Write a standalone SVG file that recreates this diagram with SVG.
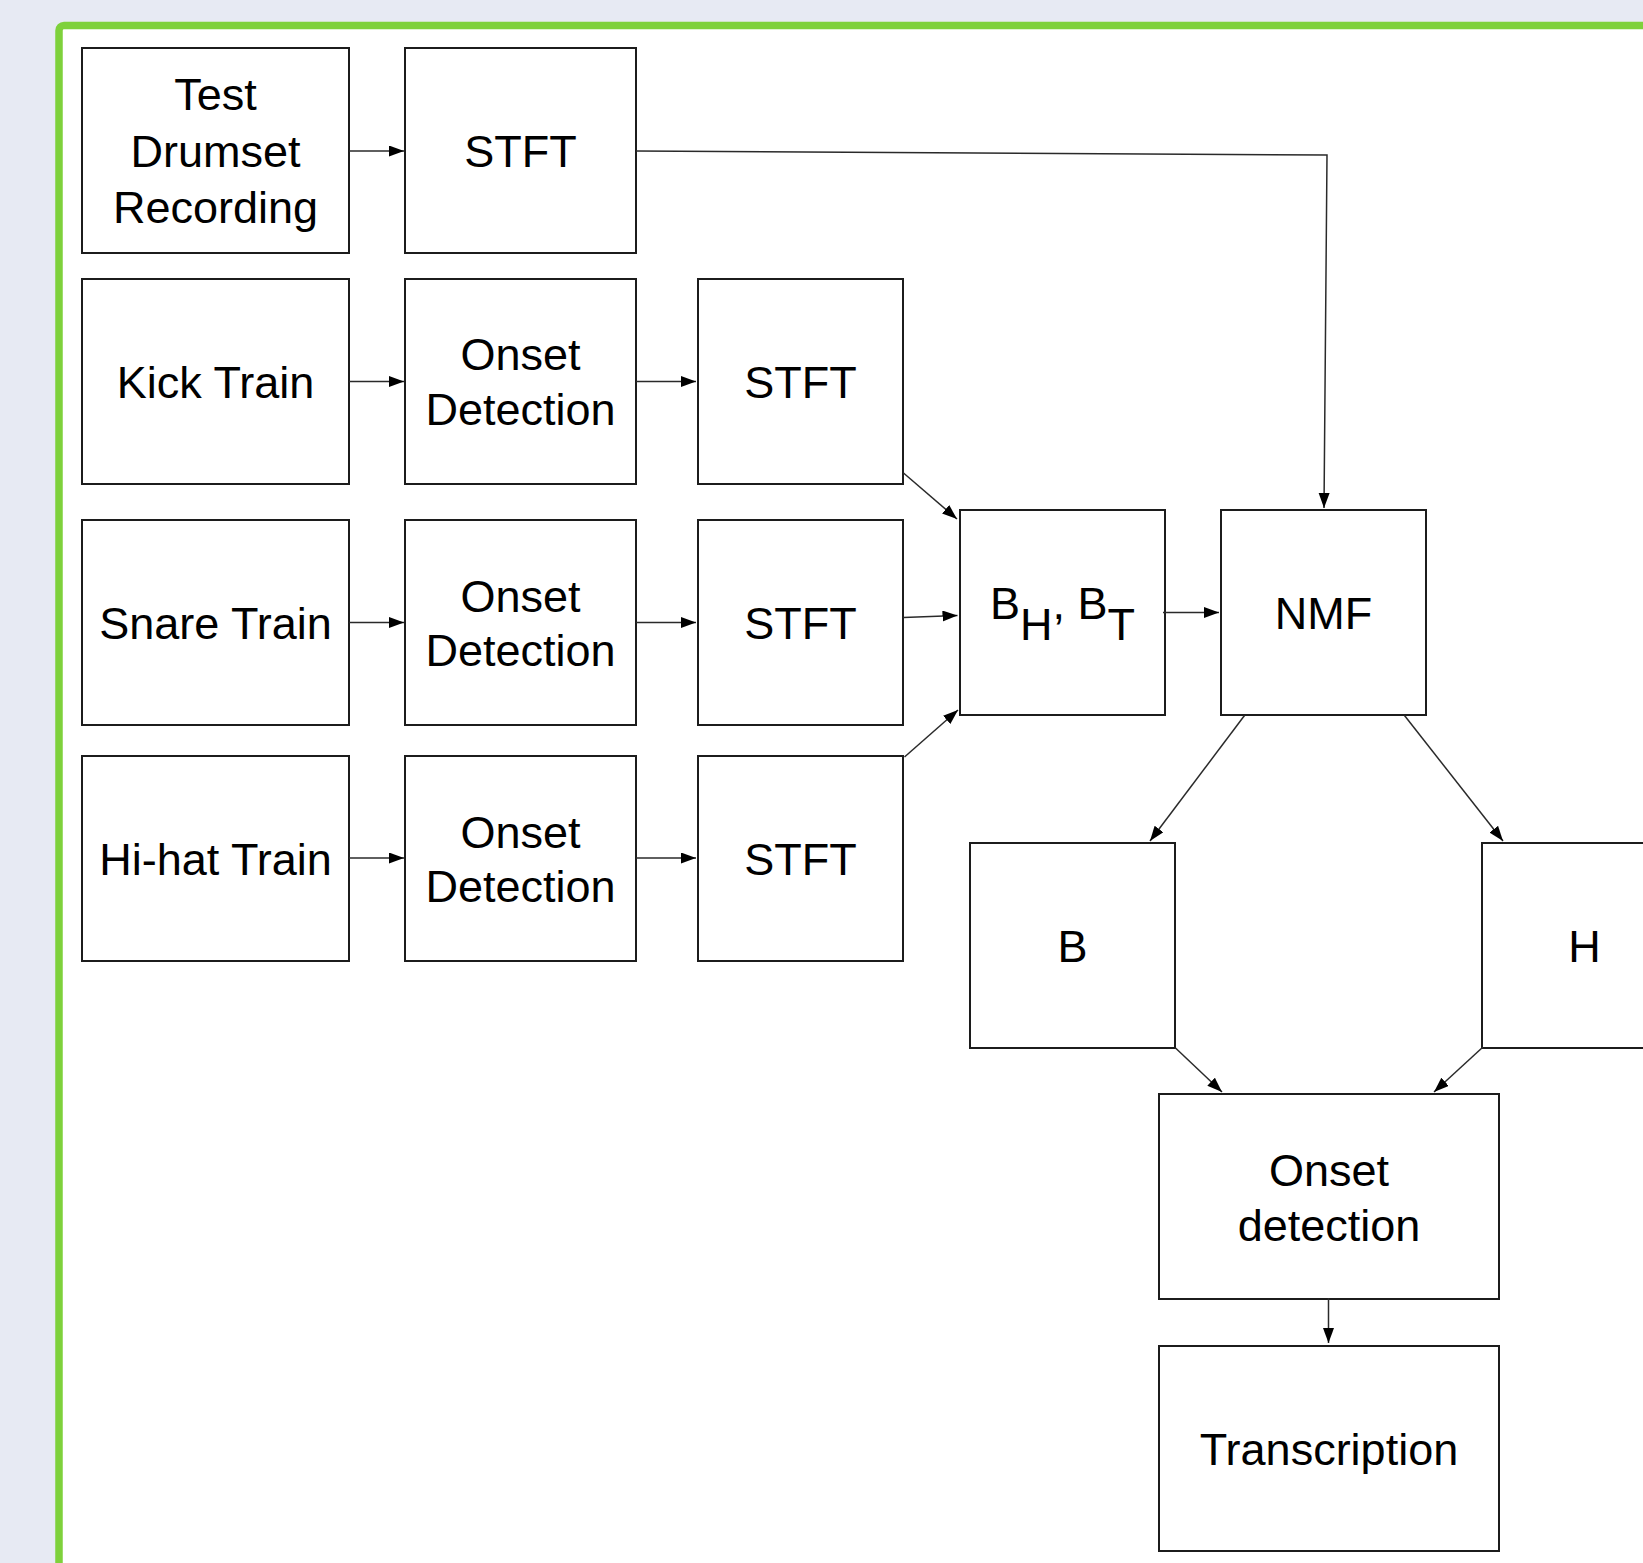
<svg xmlns="http://www.w3.org/2000/svg" width="1643" height="1563" viewBox="0 0 1643 1563">
  <style>
    .box { fill: #ffffff; stroke: #1c1c1c; stroke-width: 2; }
    .lbl { font-family: "Liberation Sans", Arial, sans-serif; font-size: 45px; fill: #000000; text-anchor: middle; }
    .edge { fill: none; stroke: #2a2a2a; stroke-width: 1.5; marker-end: url(#arrow); }
  </style>
  <defs>
    <marker id="arrow" markerUnits="userSpaceOnUse" markerWidth="16" markerHeight="12" refX="15" refY="5.5" orient="auto">
      <path d="M0,0 L15,5.5 L0,11 Z" fill="#000000"/>
    </marker>
  </defs>

  <!-- page background and framed canvas -->
  <rect x="0" y="0" width="1643" height="1563" fill="#e7eaf3"/>
  <rect x="59" y="25.5" width="1700" height="1600" rx="5" fill="#ffffff" stroke="#7ed13b" stroke-width="7.5"/>

  <!-- row 1 -->
  <g id="test-recording">
    <rect class="box" x="82" y="48" width="267" height="205"/>
    <text class="lbl" x="215.5" y="110">Test</text>
    <text class="lbl" x="215.5" y="166.5">Drumset</text>
    <text class="lbl" x="215.5" y="222.5">Recording</text>
  </g>
  <g id="stft-test">
    <rect class="box" x="405" y="48" width="231" height="205"/>
    <text class="lbl" x="520.5" y="166.5">STFT</text>
  </g>

  <!-- row 2: kick -->
  <g id="kick-train">
    <rect class="box" x="82" y="279" width="267" height="205"/>
    <text class="lbl" x="215.5" y="397.5">Kick Train</text>
  </g>
  <g id="onset-kick">
    <rect class="box" x="405" y="279" width="231" height="205"/>
    <text class="lbl" x="520.5" y="370">Onset</text>
    <text class="lbl" x="520.5" y="424.5">Detection</text>
  </g>
  <g id="stft-kick">
    <rect class="box" x="698" y="279" width="205" height="205"/>
    <text class="lbl" x="800.5" y="397.5">STFT</text>
  </g>

  <!-- row 3: snare -->
  <g id="snare-train">
    <rect class="box" x="82" y="520" width="267" height="205"/>
    <text class="lbl" x="215.5" y="638.5">Snare Train</text>
  </g>
  <g id="onset-snare">
    <rect class="box" x="405" y="520" width="231" height="205"/>
    <text class="lbl" x="520.5" y="611.5">Onset</text>
    <text class="lbl" x="520.5" y="666">Detection</text>
  </g>
  <g id="stft-snare">
    <rect class="box" x="698" y="520" width="205" height="205"/>
    <text class="lbl" x="800.5" y="638.5">STFT</text>
  </g>

  <!-- row 4: hi-hat -->
  <g id="hihat-train">
    <rect class="box" x="82" y="756" width="267" height="205"/>
    <text class="lbl" x="215.5" y="874.5">Hi-hat Train</text>
  </g>
  <g id="onset-hihat">
    <rect class="box" x="405" y="756" width="231" height="205"/>
    <text class="lbl" x="520.5" y="847.5">Onset</text>
    <text class="lbl" x="520.5" y="902">Detection</text>
  </g>
  <g id="stft-hihat">
    <rect class="box" x="698" y="756" width="205" height="205"/>
    <text class="lbl" x="800.5" y="874.5">STFT</text>
  </g>

  <!-- templates and factorisation -->
  <g id="templates">
    <rect class="box" x="960" y="510" width="205" height="205"/>
    <text class="lbl" x="1062.5" y="618.5">B<tspan dy="21">H</tspan><tspan dy="-21">, B</tspan><tspan dy="21">T</tspan></text>
  </g>
  <g id="nmf">
    <rect class="box" x="1221" y="510" width="205" height="205"/>
    <text class="lbl" x="1323.5" y="628.5">NMF</text>
  </g>
  <g id="b-matrix">
    <rect class="box" x="970" y="843" width="205" height="205"/>
    <text class="lbl" x="1072.5" y="961.5">B</text>
  </g>
  <g id="h-matrix">
    <rect class="box" x="1482" y="843" width="205" height="205"/>
    <text class="lbl" x="1584.5" y="961.5">H</text>
  </g>
  <g id="onset-final">
    <rect class="box" x="1159" y="1094" width="340" height="205"/>
    <text class="lbl" x="1329" y="1185.5">Onset</text>
    <text class="lbl" x="1329" y="1240.5">detection</text>
  </g>
  <g id="transcription">
    <rect class="box" x="1159" y="1346" width="340" height="205"/>
    <text class="lbl" x="1329" y="1464.5">Transcription</text>
  </g>

  <!-- connectors -->
  <g id="connectors">
    <line class="edge" x1="349" y1="151" x2="404" y2="151"/>
    <polyline class="edge" points="636,151 1327,155 1324,508"/>

    <line class="edge" x1="349" y1="381.5" x2="404" y2="381.5"/>
    <line class="edge" x1="636" y1="381.5" x2="696" y2="381.5"/>
    <line class="edge" x1="349" y1="622.5" x2="404" y2="622.5"/>
    <line class="edge" x1="636" y1="622.5" x2="696" y2="622.5"/>
    <line class="edge" x1="349" y1="858" x2="404" y2="858"/>
    <line class="edge" x1="636" y1="858" x2="696" y2="858"/>

    <line class="edge" x1="903.5" y1="473" x2="957" y2="519"/>
    <line class="edge" x1="903.5" y1="617.5" x2="957.5" y2="615.5"/>
    <line class="edge" x1="904.5" y1="757" x2="958" y2="710"/>

    <line class="edge" x1="1163" y1="612.5" x2="1219" y2="612.5"/>

    <line class="edge" x1="1244.5" y1="715.5" x2="1150" y2="841"/>
    <line class="edge" x1="1404.5" y1="715.5" x2="1503" y2="841"/>

    <line class="edge" x1="1175.5" y1="1048" x2="1222" y2="1092"/>
    <line class="edge" x1="1483" y1="1047" x2="1434" y2="1092"/>

    <line class="edge" x1="1328.5" y1="1298" x2="1328.5" y2="1343"/>
  </g>
</svg>
